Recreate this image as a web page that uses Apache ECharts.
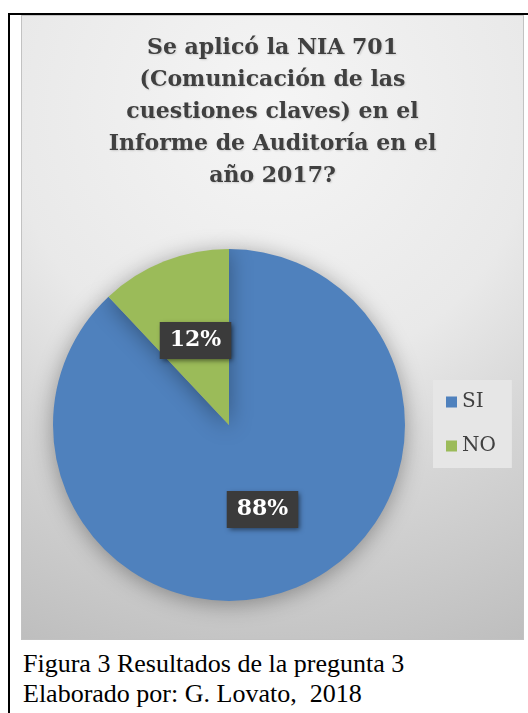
<!DOCTYPE html>
<html>
<head>
<meta charset="utf-8">
<script src="https://cdn.jsdelivr.net/npm/echarts@6/dist/echarts.min.js"></script>
<style>
  html, body { margin: 0; padding: 0; background: #ffffff; width: 528px; height: 713px; overflow: hidden; }
  #frame { position: absolute; left: 8px; top: 13px; width: 540px; height: 720px; border-left: 2px solid #000; border-top: 2px solid #000; }
  #chart { position: absolute; left: 21px; top: 15px; width: 501px; height: 623px; border: 1px solid #c2c2c2; }
  #caption { position: absolute; left: 23px; top: 649px; font-family: "Liberation Serif", "Times New Roman", serif; font-size: 26px; line-height: 30px; color: #000; white-space: nowrap; }
</style>
</head>
<body>
<div id="frame"></div>
<div id="chart"></div>
<div id="caption">Figura 3 Resultados de la pregunta 3<br>Elaborado por: G. Lovato,&nbsp; 2018</div>
<script>
const titleText = "Se aplicó la NIA 701\n(Comunicación de las\ncuestiones claves) en el\nInforme de Auditoría en el\naño 2017?";
const categories = ["SI", "NO"];
const values = [88, 12];
const colors = ["#4f81bd", "#9bbb59"];

const chart = echarts.init(document.getElementById('chart'), null, { renderer: 'canvas' });
const option = {
  animation: false,
  backgroundColor: {
    type: 'radial', x: 0.5, y: 0.15, r: 1.2,
    colorStops: [
      { offset: 0, color: '#f5f5f5' },
      { offset: 0.44, color: '#e9e9e9' },
      { offset: 0.66, color: '#d5d5d5' },
      { offset: 0.88, color: '#c5c5c5' },
      { offset: 1, color: '#bcbcbc' }
    ]
  },
  title: {
    text: titleText,
    left: 'center',
    top: 16,
    padding: 0,
    textStyle: {
      fontFamily: 'DejaVu Serif',
      fontWeight: 'bold',
      fontSize: 22,
      lineHeight: 32,
      color: '#404040',
      textShadowColor: 'rgba(0,0,0,0.15)',
      textShadowBlur: 2,
      textShadowOffsetX: 1,
      textShadowOffsetY: 1
    }
  },
  legend: {
    orient: 'vertical',
    left: 411,
    top: 364,
    padding: [11, 16, 11, 13],
    backgroundColor: '#e6e6e6',
    itemWidth: 11,
    itemHeight: 11,
    itemGap: 22,
    icon: 'rect',
    data: categories,
    textStyle: { fontFamily: 'DejaVu Serif', fontSize: 20, lineHeight: 22, color: '#404040' }
  },
  series: [{
    type: 'pie',
    center: [207, 409],
    radius: 176,
    startAngle: 90,
    clockwise: true,
    data: categories.map((c, i) => ({ name: c, value: values[i], itemStyle: { color: colors[i] } })),
    itemStyle: {
      shadowBlur: 22,
      shadowColor: 'rgba(0,0,0,0.35)',
      shadowOffsetY: 3
    },
    label: {
      show: true,
      position: 'inside',
      formatter: '{d}%',
      fontFamily: 'DejaVu Serif',
      fontWeight: 'bold',
      fontSize: 22,
      lineHeight: 28,
      color: '#ffffff',
      backgroundColor: '#3b3b3b',
      padding: [5, 10, 4, 10],
      shadowColor: 'rgba(0,0,0,0.55)',
      shadowBlur: 5,
      shadowOffsetX: 2,
      shadowOffsetY: 2
    },
    labelLine: { show: false },
    emphasis: { disabled: true }
  }]
};
chart.setOption(option);
</script>
</body>
</html>
